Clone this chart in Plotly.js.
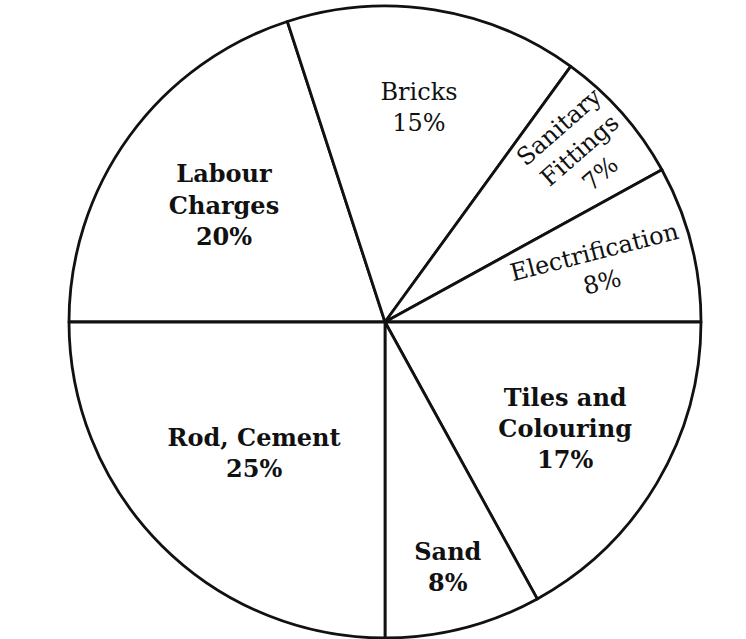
<!DOCTYPE html>
<html>
<head>
<meta charset="utf-8">
<script src="https://cdn.plot.ly/plotly-3.0.1.min.js"></script>
<style>html,body{margin:0;padding:0;background:#fff;}#chart{width:746px;height:639px;}</style>
</head>
<body>
<div id="chart"></div>
<script>
// Data (clockwise, starting at 9 o'clock)
const categories = ['Labour Charges', 'Bricks', 'Sanitary Fittings', 'Electrification', 'Tiles and Colouring', 'Sand', 'Rod, Cement'];
const shares = [20, 15, 7, 8, 17, 8, 25];
const displayLines = ['Labour<br>Charges', 'Bricks', 'Sanitary<br>Fittings', 'Electrification', 'Tiles and<br>Colouring', 'Sand', 'Rod, Cement'];

const weights = ['bold', 'normal', 'normal', 'normal', 'bold', 'bold', 'bold'];
const isRadial = [false, false, true, true, false, false, false];

function makeTrace(showFor, orientation, drawFill) {
  return {
    type: 'pie',
    labels: categories,
    values: shares,
    text: displayLines.map((t, i) => showFor[i] ? t + '<br>' + shares[i] + '%' : ''),
    texttemplate: '%{text}',
    textinfo: 'text',
    textposition: 'inside',
    insidetextorientation: orientation,
    sort: false,
    direction: 'clockwise',
    rotation: 270,
    hoverinfo: 'skip',
    showlegend: false,
    textfont: { family: 'DejaVu Serif', size: 24, color: '#111', weight: weights },
    marker: {
      colors: categories.map(() => drawFill ? '#ffffff' : 'rgba(0,0,0,0)'),
      line: { color: drawFill ? '#111' : 'rgba(0,0,0,0)', width: drawFill ? 2.8 : 0 }
    },
    domain: { x: [(385 - 318) / 746, (385 + 318) / 746], y: [0, 1] }
  };
}

const data = [
  makeTrace(isRadial.map(v => !v), 'horizontal', true),
  makeTrace(isRadial, 'radial', false)
];

const layout = {
  width: 746, height: 639,
  margin: { l: 0, r: 0, t: 6, b: 1 },
  paper_bgcolor: '#ffffff',
  plot_bgcolor: '#ffffff',
  showlegend: false
};

Plotly.newPlot('chart', data, layout, { displayModeBar: false, staticPlot: true });
</script>
</body>
</html>
